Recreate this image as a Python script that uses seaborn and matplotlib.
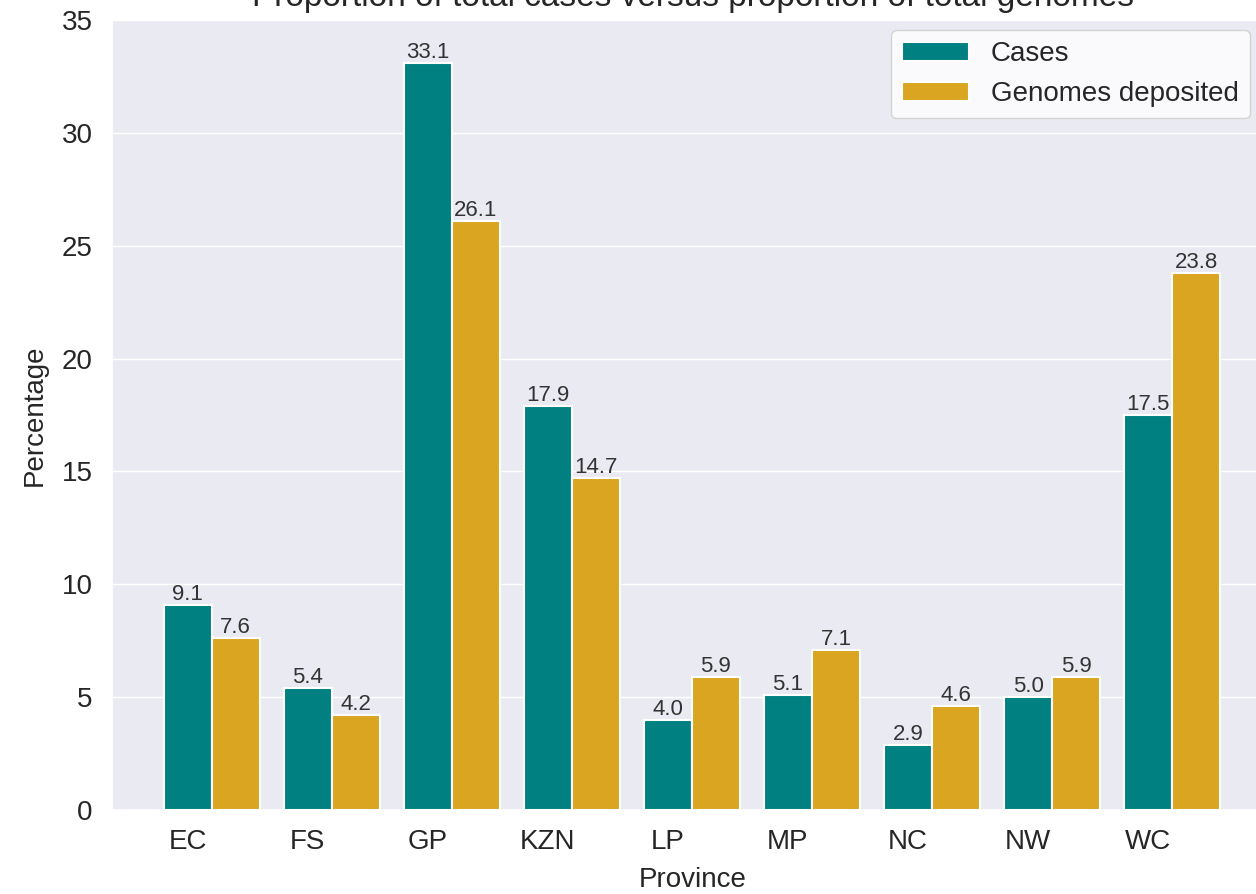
import matplotlib
matplotlib.use("Agg")
import matplotlib.pyplot as plt
import seaborn as sns
import numpy as np

provinces = ['EC', 'FS', 'GP', 'KZN', 'LP', 'MP', 'NC', 'NW', 'WC']
cases = [9.1, 5.4, 33.1, 17.9, 4.0, 5.1, 2.9, 5.0, 17.5]
genomes = [7.6, 4.2, 26.1, 14.7, 5.9, 7.1, 4.6, 5.9, 23.8]

sns.set_theme(style='darkgrid')
plt.rcParams['font.family'] = ['Liberation Sans', 'DejaVu Sans']

fig = plt.figure(figsize=(12.56, 8.94), dpi=100)
# axes runs past the right/top edge like the cropped original
ax = fig.add_axes([112 / 1256, 84 / 894, 1161 / 1256, 790 / 894])

x = np.arange(len(provinces))
w = 0.4
b1 = ax.bar(x, cases, w, color='#008080', edgecolor='white', linewidth=1.5, label='Cases')
b2 = ax.bar(x + w, genomes, w, color='#DAA520', edgecolor='white', linewidth=1.5,
            label='Genomes deposited')

ax.bar_label(b1, fmt='%.1f', fontsize=16, color='#333333', padding=0)
ax.bar_label(b2, fmt='%.1f', fontsize=16, color='#333333', padding=0)

ax.set_xticks(x)
ax.set_xticklabels(provinces)
ax.xaxis.grid(False)
ax.set_ylim(0, 35)
ax.set_xlim(-0.63, 9.04)
ax.tick_params(axis='both', labelsize=20, colors='#262626')
ax.tick_params(axis='y', pad=8)
ax.tick_params(axis='x', pad=8)

ax.set_xlabel('Province', fontsize=20, labelpad=8)
ax.set_ylabel('Percentage', fontsize=20, labelpad=10)
ax.set_title('Proportion of total cases versus proportion of total genomes', fontsize=24, pad=10)

ax.legend(loc='upper right', fontsize=20, frameon=True, facecolor='white',
          handlelength=2.4, bbox_to_anchor=(1250 / 1256, 1 - 30 / 894),
          bbox_transform=fig.transFigure, borderaxespad=0)

fig.savefig('out.png', dpi=100)
